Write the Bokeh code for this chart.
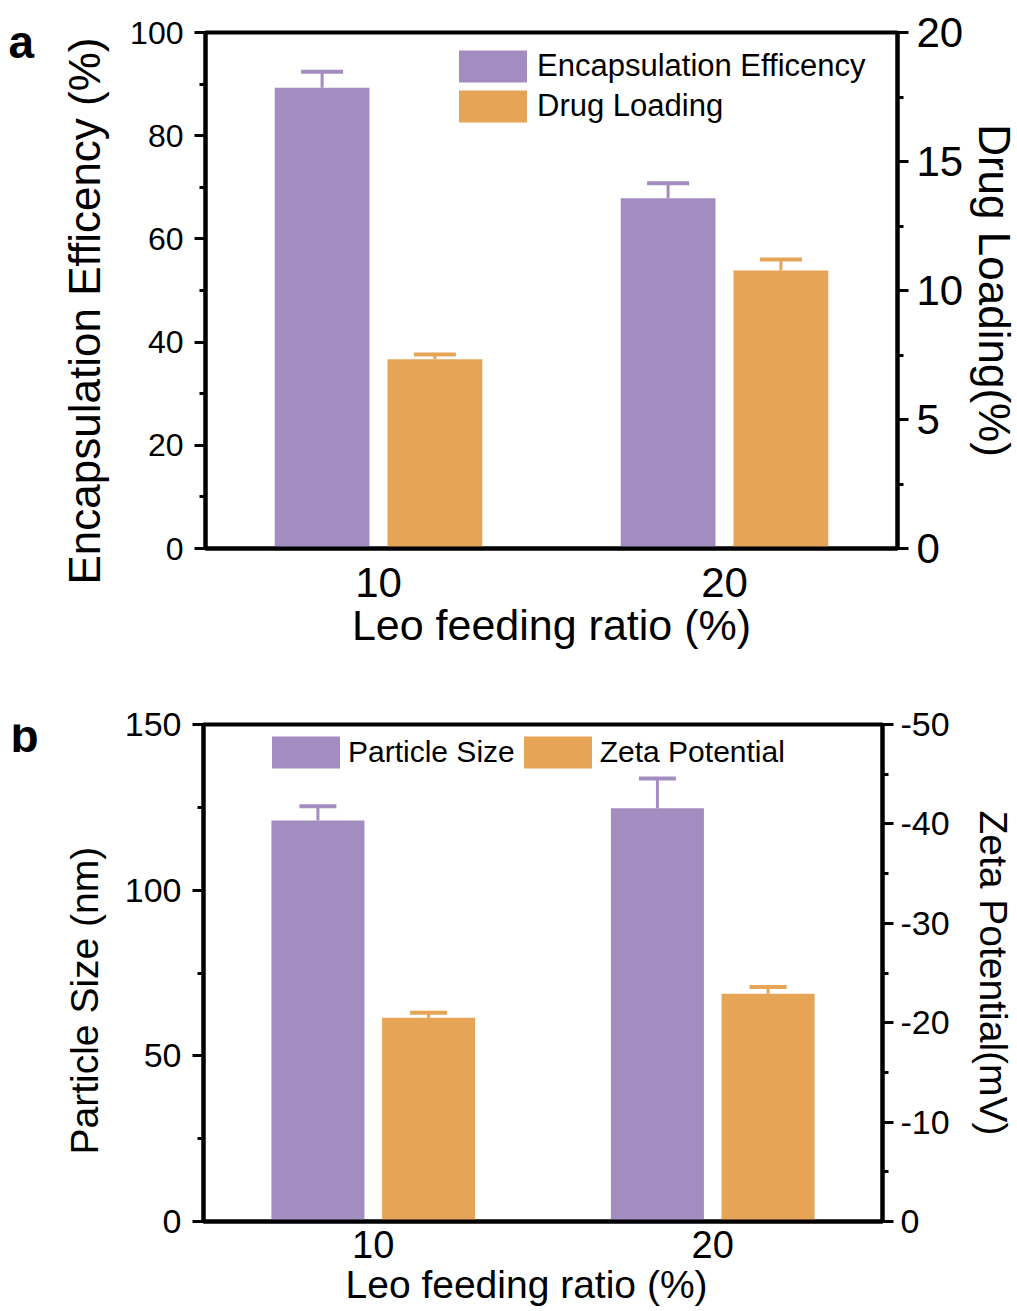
from bokeh.plotting import figure
from bokeh.models import (FactorRange, Range1d, LinearAxis, Whisker, TeeHead, Legend,
                          LegendItem, Label, Title, ColumnDataSource, SingleIntervalTicker,
                          PrintfTickFormatter)
from bokeh.transform import dodge
from bokeh.layouts import column, row
from bokeh.embed import file_html
from bokeh.resources import INLINE

# ---------------- data ----------------
ratios = ["10", "20"]
# panel a
ee = [89.3, 67.9]          # encapsulation efficiency (%)
ee_err = [3.1, 2.9]
dl = [7.34, 10.78]         # drug loading (%)
dl_err = [0.18, 0.42]
# panel b
ps = [121.0, 124.7]        # particle size (nm)
ps_err = [4.3, 9.0]
zp = [-20.5, -22.9]        # zeta potential (mV)
zp_err = [0.5, 0.7]

PURPLE = "#A38CBF"
ORANGE = "#E5A456"
FONT = "Liberation Sans"
OFF = 0.163
BW = 0.274


def style_axis(ax, tick_size, label_size, label_standoff, title_standoff):
    ax.axis_line_width = 4
    ax.axis_line_color = "black"
    ax.major_tick_line_width = 3
    ax.minor_tick_line_width = 3
    ax.major_tick_in = 0
    ax.minor_tick_in = 0
    ax.major_tick_out = 11
    ax.minor_tick_out = 6
    ax.major_label_text_font = FONT
    ax.major_label_text_font_size = tick_size
    ax.major_label_text_color = "black"
    ax.major_label_standoff = label_standoff
    ax.axis_label_text_font = FONT
    ax.axis_label_text_font_style = "normal"
    ax.axis_label_text_font_size = label_size
    ax.axis_label_text_color = "black"
    ax.axis_label_standoff = title_standoff


def base_fig(fw, fh, left, right, top, bottom):
    p = figure(x_range=FactorRange(factors=ratios), frame_width=fw, frame_height=fh,
               output_backend="svg", toolbar_location=None,
               min_border_left=left, min_border_right=right,
               min_border_top=top, min_border_bottom=bottom)
    p.xgrid.visible = False
    p.ygrid.visible = False
    p.outline_line_color = "black"
    p.outline_line_width = 4
    p.outline_line_alpha = 1
    p.background_fill_color = "white"
    p.border_fill_color = "white"
    return p


def strip(w, h, label):
    s = figure(width=w, height=h, x_range=Range1d(0, 1), y_range=Range1d(0, 1),
               x_axis_location=None, y_axis_location=None, min_border=0,
               toolbar_location=None, output_backend="svg")
    s.outline_line_color = None
    s.border_fill_color = "white"
    s.background_fill_color = "white"
    s.grid.visible = False
    s.add_layout(label)
    return s


def panel_letter(x, y, text):
    return Label(x=x, y=y, x_units="screen", y_units="screen", text=text,
                 text_font=FONT, text_font_size="46px", text_font_style="bold",
                 text_baseline="alphabetic", text_color="black")


def side_title(text, size, offset, standoff, valign="bottom"):
    return Title(text=text, align="left", vertical_align=valign, offset=offset,
                 standoff=standoff, text_font=FONT, text_font_size=size,
                 text_font_style="normal", text_color="black")


# ---------------- panel a ----------------
srcA = ColumnDataSource(dict(
    x=ratios, ee=ee, ee_up=[v + e for v, e in zip(ee, ee_err)],
    dl=dl, dl_up=[v + e for v, e in zip(dl, dl_err)]))

pa = base_fig(692, 516, 169, 120, 32, 110)
pa.y_range = Range1d(0, 100)
pa.extra_y_ranges = {"dl": Range1d(0, 20)}

r_ee = pa.vbar(x=dodge("x", -OFF, range=pa.x_range), top="ee", width=BW, bottom=0,
               source=srcA, fill_color=PURPLE, line_color=None)
r_dl = pa.vbar(x=dodge("x", OFF, range=pa.x_range), top="dl", width=BW, bottom=0,
               source=srcA, fill_color=ORANGE, line_color=None, y_range_name="dl")

pa.add_layout(Whisker(source=srcA, base=dodge("x", -OFF, range=pa.x_range), lower="ee",
                      upper="ee_up", dimension="height", line_color=PURPLE, line_width=3,
                      lower_head=None,
                      upper_head=TeeHead(size=42, line_color=PURPLE, line_width=4)))
pa.add_layout(Whisker(source=srcA, base=dodge("x", OFF, range=pa.x_range), lower="dl",
                      upper="dl_up", dimension="height", line_color=ORANGE, line_width=3,
                      lower_head=None, y_range_name="dl",
                      upper_head=TeeHead(size=42, line_color=ORANGE, line_width=4)))

pa.yaxis[0].ticker = SingleIntervalTicker(interval=20, num_minor_ticks=2)
style_axis(pa.yaxis[0], "32px", "44px", 11, 20)
pa.add_layout(side_title("Encapsulation Efficency (%)", "44px", -36, 38), "left")

ax_r = LinearAxis(y_range_name="dl", axis_label="Drug Loading(%)",
                  ticker=SingleIntervalTicker(interval=5, num_minor_ticks=2))
style_axis(ax_r, "42px", "44px", 8, 4)
pa.add_layout(ax_r, "right")

pa.xaxis.axis_label = "Leo feeding ratio (%)"
style_axis(pa.xaxis[0], "42px", "43px", 19, 1)
pa.xaxis.major_tick_out = 0
pa.xaxis.minor_tick_out = 0
pa.xaxis.major_tick_line_color = None

leg_a = Legend(items=[LegendItem(label="Encapsulation Efficency", renderers=[r_ee]),
                      LegendItem(label="Drug Loading", renderers=[r_dl])],
               location=(245, 422), orientation="vertical", glyph_width=85, glyph_height=40,
               spacing=-2, padding=0, margin=0, label_standoff=2,
               border_line_color=None, background_fill_alpha=0,
               label_text_font=FONT, label_text_font_size="31px", label_text_color="black")
pa.add_layout(leg_a)

la = strip(36, 658, panel_letter(8, 507, "a"))

# ---------------- panel b ----------------
srcB = ColumnDataSource(dict(
    x=ratios, ps=ps, ps_up=[v + e for v, e in zip(ps, ps_err)],
    zp=zp, zp_up=[v - e for v, e in zip(zp, zp_err)]))

pb = base_fig(679, 497, 163, 135, 66, 90)
pb.y_range = Range1d(0, 150)
pb.extra_y_ranges = {"zp": Range1d(0, -50)}

r_ps = pb.vbar(x=dodge("x", -OFF, range=pb.x_range), top="ps", width=BW, bottom=0,
               source=srcB, fill_color=PURPLE, line_color=None)
r_zp = pb.vbar(x=dodge("x", OFF, range=pb.x_range), top="zp", width=BW, bottom=0,
               source=srcB, fill_color=ORANGE, line_color=None, y_range_name="zp")

pb.add_layout(Whisker(source=srcB, base=dodge("x", -OFF, range=pb.x_range), lower="ps",
                      upper="ps_up", dimension="height", line_color=PURPLE, line_width=3,
                      lower_head=None,
                      upper_head=TeeHead(size=37, line_color=PURPLE, line_width=4)))
pb.add_layout(Whisker(source=srcB, base=dodge("x", OFF, range=pb.x_range), lower="zp",
                      upper="zp_up", dimension="height", line_color=ORANGE, line_width=3,
                      lower_head=None, y_range_name="zp",
                      upper_head=TeeHead(size=37, line_color=ORANGE, line_width=4)))

pb.yaxis[0].ticker = SingleIntervalTicker(interval=50, num_minor_ticks=2)
style_axis(pb.yaxis[0], "34px", "39px", 11, 21)
pb.add_layout(side_title("Particle Size (nm)", "39px", 67, 32), "left")

bx_r = LinearAxis(y_range_name="zp", axis_label="Zeta Potential(mV)",
                  ticker=SingleIntervalTicker(interval=10, num_minor_ticks=2),
                  formatter=PrintfTickFormatter(format="%d"))
style_axis(bx_r, "34px", "39px", 7, 19)
pb.add_layout(bx_r, "right")

style_axis(pb.xaxis[0], "38px", "39px", 9, 2)
pb.xaxis.major_tick_out = 0
pb.xaxis.minor_tick_out = 0
pb.xaxis.major_tick_line_color = None
pb.add_layout(side_title("Leo feeding ratio (%)", "39px", 142, 4, valign="top"), "below")

leg_b = Legend(items=[LegendItem(label="Particle Size", renderers=[r_ps]),
                      LegendItem(label="Zeta Potential", renderers=[r_zp])],
               location=(60, 449), orientation="horizontal", glyph_width=85, glyph_height=40,
               spacing=-6, padding=0, margin=0, label_standoff=0,
               border_line_color=None, background_fill_alpha=0,
               label_text_font=FONT, label_text_font_size="30px", label_text_color="black")
pb.add_layout(leg_b)

lb = strip(40, 653, panel_letter(10, 486, "b"))

layout = column(row(la, pa, spacing=0), row(lb, pb, spacing=0), spacing=0)
open("out.html", "w").write(file_html(layout, INLINE))
